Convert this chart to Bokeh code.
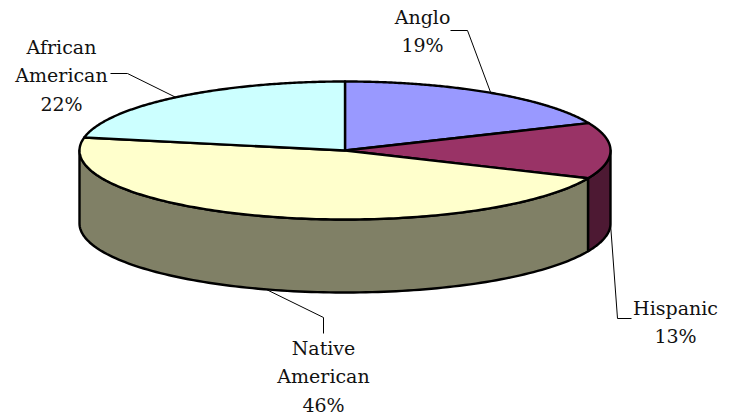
import numpy as np
from bokeh.plotting import figure
from bokeh.models import Range1d
from bokeh.core.properties import value
from bokeh.embed import file_html
from bokeh.resources import INLINE

categories = ["Anglo", "Hispanic", "Native American", "African American"]
shares = [18.5, 13.1, 46.4, 22.0]
top_colors = ["#9999FF", "#993366", "#FFFFCC", "#CCFFFF"]
side_colors = ["#4D4D80", "#4D1933", "#808066", "#668080"]
label_lines = [["Anglo", "19%"], ["Hispanic", "13%"], ["Native", "American", "46%"], ["African", "American", "22%"]]

# layout, in page pixels
W, H = 739, 415
CX, CY, RX, RY, DEPTH = 344.5, 150, 265.5, 69, 73
label_pos = [(422, 16), (675, 307), (323, 347), (61, 46)]
LINE_H = 28.5
FONT = "DejaVu Serif"

p = figure(width=W, height=H, output_backend="svg", toolbar_location=None,
           x_range=Range1d(0, W), y_range=Range1d(H, 0),
           min_border=0, outline_line_color=None,
           background_fill_color="white", border_fill_color="white")
p.axis.visible = False
p.grid.visible = False


def ell(t, dy=0.0):
    t = np.asarray(t, dtype=float)
    return CX + RX * np.sin(t), CY + dy - RY * np.cos(t)


edges = np.cumsum([0] + shares) / sum(shares) * 2 * np.pi
stroke = dict(line_color="black", line_width=2.4, line_join="round")

# walls: only the part of each slice that faces the viewer
for i in range(len(shares)):
    a, b = max(edges[i], np.pi / 2), min(edges[i + 1], 3 * np.pi / 2)
    if b <= a:
        continue
    t = np.linspace(a, b, 120)
    x0, y0 = ell(t)
    x1, y1 = ell(t[::-1], DEPTH)
    p.patch(np.r_[x0, x1], np.r_[y0, y1], fill_color=side_colors[i], **stroke)

# top faces
for i in range(len(shares)):
    t = np.linspace(edges[i], edges[i + 1], 160)
    x, y = ell(t)
    p.patch(np.r_[CX, x], np.r_[CY, y], fill_color=top_colors[i], **stroke)

# leader lines: from slice mid-angle out to its label
mids = (edges[:-1] + edges[1:]) / 2
elbows = [[(467, 30), (450, 30)], [(617, 318), (631, 318)], [(323, 317), (323, 333)], [(127, 73), (110, 73)]]
for i, m in enumerate(mids):
    ax, ay = ell(m, DEPTH if np.cos(m) < 0 and categories[i] != "African American" else 0)
    xs = [float(ax)] + [q[0] for q in elbows[i]]
    ys = [float(ay)] + [q[1] for q in elbows[i]]
    p.line(xs, ys, line_color="black", line_width=1)

# labels
for lines, (lx, ly) in zip(label_lines, label_pos):
    for j, s in enumerate(lines):
        p.text([lx], [ly + j * LINE_H], text=[s], text_font=value(FONT), text_font_size="19px",
               text_align="center", text_baseline="middle", text_color="#111111")

open("out.html", "w").write(file_html(p, INLINE))
